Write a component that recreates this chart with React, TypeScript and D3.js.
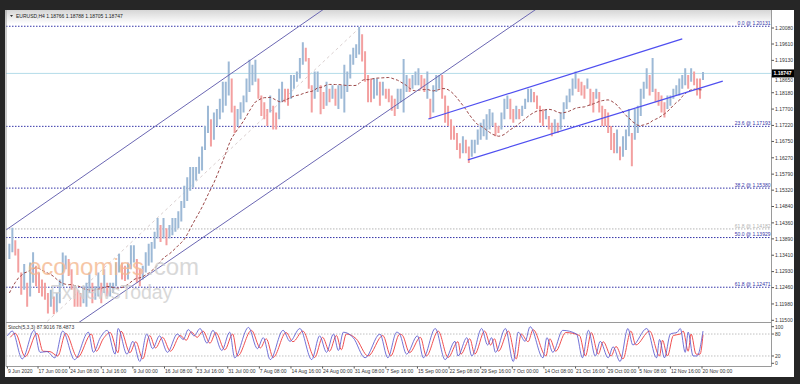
import React from 'react';
import * as d3 from 'd3';

const chartTitle = 'EURUSD,H4  1.18766 1.18788 1.18705 1.18747';
const stochTitle = 'Stoch(5,3,3) 87.9016 78.4873';
const lastPrice = 1.18747;

// Half-day bars (AM, PM) from 10 Jun 2020 to 20 Nov 2020
const barLow = [
  1.1330, 1.1350, 1.1340, 1.1290, 1.1225, 1.1240, 1.1190, 1.1220, 1.1260, 1.1250,
  1.1230, 1.1220, 1.1210, 1.1170, 1.1190, 1.1168, 1.1175, 1.1200, 1.1250, 1.1300,
  1.1280, 1.1240, 1.1190, 1.1190, 1.1190, 1.1200, 1.1190, 1.1230, 1.1200, 1.1210,
  1.1220, 1.1200, 1.1230, 1.1220, 1.1220, 1.1230, 1.1250, 1.1290, 1.1270, 1.1265,
  1.1270, 1.1300, 1.1320, 1.1260, 1.1250, 1.1270, 1.1290, 1.1310, 1.1320, 1.1360,
  1.1390, 1.1380, 1.1390, 1.1370, 1.1390, 1.1400, 1.1410, 1.1420, 1.1440, 1.1480,
  1.1500, 1.1530, 1.1540, 1.1560, 1.1580, 1.1590, 1.1650, 1.1700, 1.1660, 1.1680,
  1.1720, 1.1740, 1.1760, 1.1780, 1.1810, 1.1760, 1.1700, 1.1720, 1.1740, 1.1760,
  1.1790, 1.1820, 1.1840, 1.1850, 1.1800, 1.1750, 1.1740, 1.1720, 1.1760, 1.1710,
  1.1710, 1.1740, 1.1790, 1.1790, 1.1780, 1.1800, 1.1830, 1.1850, 1.1860, 1.1900,
  1.1910, 1.1830, 1.1760, 1.1800, 1.1820, 1.1755, 1.1770, 1.1780, 1.1790, 1.1800,
  1.1780, 1.1770, 1.1800, 1.1760, 1.1820, 1.1860, 1.1900, 1.1920, 1.1930, 1.1910,
  1.1850, 1.1790, 1.1790, 1.1800, 1.1810, 1.1780, 1.1810, 1.1800, 1.1790, 1.1765,
  1.1750, 1.1770, 1.1790, 1.1760, 1.1820, 1.1820, 1.1830, 1.1840, 1.1840, 1.1830,
  1.1820, 1.1800, 1.1740, 1.1760, 1.1820, 1.1830, 1.1800, 1.1730, 1.1720, 1.1680,
  1.1680, 1.1650, 1.1625, 1.1640, 1.1640, 1.1612, 1.1630, 1.1640, 1.1665, 1.1680,
  1.1690, 1.1680, 1.1710, 1.1720, 1.1690, 1.1700, 1.1710, 1.1740, 1.1770, 1.1740,
  1.1730, 1.1740, 1.1740, 1.1750, 1.1770, 1.1790, 1.1790, 1.1790, 1.1770, 1.1730,
  1.1720, 1.1740, 1.1710, 1.1690, 1.1700, 1.1700, 1.1710, 1.1740, 1.1770, 1.1790,
  1.1810, 1.1830, 1.1820, 1.1810, 1.1800, 1.1830, 1.1780, 1.1760, 1.1800, 1.1760,
  1.1720, 1.1720, 1.1700, 1.1650, 1.1640, 1.1640, 1.1620, 1.1630, 1.1650, 1.1690,
  1.1602, 1.1680, 1.1700, 1.1750, 1.1800, 1.1830, 1.1810, 1.1820, 1.1790, 1.1780,
  1.1760, 1.1745, 1.1770, 1.1780, 1.1800, 1.1810, 1.1810, 1.1830, 1.1840, 1.1830,
  1.1850, 1.1840, 1.1810, 1.1800, 1.1855,
];
const barHigh = [
  1.1375, 1.1422, 1.1385, 1.1360, 1.1290, 1.1315, 1.1260, 1.1320, 1.1350, 1.1310,
  1.1290, 1.1270, 1.1260, 1.1230, 1.1240, 1.1220, 1.1230, 1.1270, 1.1349, 1.1340,
  1.1330, 1.1300, 1.1250, 1.1240, 1.1230, 1.1250, 1.1260, 1.1290, 1.1260, 1.1250,
  1.1290, 1.1260, 1.1300, 1.1260, 1.1260, 1.1260, 1.1320, 1.1345, 1.1320, 1.1310,
  1.1320, 1.1370, 1.1370, 1.1330, 1.1300, 1.1310, 1.1350, 1.1375, 1.1380, 1.1410,
  1.1450, 1.1430, 1.1450, 1.1420, 1.1430, 1.1450, 1.1450, 1.1470, 1.1500, 1.1545,
  1.1570, 1.1600, 1.1600, 1.1600, 1.1630, 1.1660, 1.1720, 1.1780, 1.1740, 1.1760,
  1.1770, 1.1800, 1.1850, 1.1850, 1.1910, 1.1860, 1.1780, 1.1770, 1.1790, 1.1810,
  1.1860, 1.1915, 1.1900, 1.1915, 1.1860, 1.1810, 1.1790, 1.1770, 1.1810, 1.1780,
  1.1760, 1.1830, 1.1850, 1.1830, 1.1830, 1.1870, 1.1870, 1.1880, 1.1920, 1.1966,
  1.1950, 1.1920, 1.1840, 1.1880, 1.1880, 1.1840, 1.1820, 1.1850, 1.1830, 1.1840,
  1.1830, 1.1840, 1.1840, 1.1900, 1.1880, 1.1930, 1.1950, 1.1960, 1.2011, 1.1990,
  1.1940, 1.1870, 1.1860, 1.1860, 1.1860, 1.1850, 1.1850, 1.1830, 1.1830, 1.1810,
  1.1800, 1.1830, 1.1830, 1.1917, 1.1870, 1.1860, 1.1870, 1.1880, 1.1890, 1.1870,
  1.1860, 1.1880, 1.1800, 1.1840, 1.1870, 1.1870, 1.1870, 1.1810, 1.1780, 1.1740,
  1.1720, 1.1700, 1.1670, 1.1690, 1.1680, 1.1660, 1.1680, 1.1680, 1.1710, 1.1730,
  1.1740, 1.1755, 1.1770, 1.1760, 1.1730, 1.1720, 1.1760, 1.1800, 1.1810, 1.1800,
  1.1770, 1.1780, 1.1770, 1.1780, 1.1800, 1.1830, 1.1830, 1.1820, 1.1810, 1.1780,
  1.1770, 1.1770, 1.1750, 1.1730, 1.1740, 1.1730, 1.1760, 1.1790, 1.1810, 1.1830,
  1.1860, 1.1880, 1.1860, 1.1850, 1.1840, 1.1860, 1.1830, 1.1820, 1.1830, 1.1820,
  1.1780, 1.1770, 1.1760, 1.1720, 1.1700, 1.1710, 1.1660, 1.1690, 1.1710, 1.1770,
  1.1700, 1.1770, 1.1780, 1.1830, 1.1850, 1.1890, 1.1870, 1.1920, 1.1830, 1.1820,
  1.1810, 1.1790, 1.1810, 1.1810, 1.1830, 1.1840, 1.1860, 1.1870, 1.1890, 1.1870,
  1.1890, 1.1880, 1.1860, 1.1860, 1.1879,
];
// half-day mid prices before the window (for the moving average)
const priorMid = [
  1.1080, 1.1100, 1.1120, 1.1110, 1.1130, 1.1150, 1.1170, 1.1190, 1.1230,
  1.1230, 1.1290, 1.1340, 1.1300, 1.1280, 1.1280, 1.1300, 1.1340,
];
const maPeriod = 17;

const priceTicks = [
  1.2008, 1.1961, 1.1913, 1.1865, 1.1818, 1.177, 1.1722, 1.1675, 1.1627, 1.1579,
  1.1532, 1.1484, 1.1436, 1.1389, 1.1341, 1.1293, 1.1246, 1.1198, 1.115,
];

const dateLabels = [
  '9 Jun 2020', '17 Jun 00:00', '24 Jun 08:00', '1 Jul 16:00', '9 Jul 00:00', '16 Jul 08:00',
  '23 Jul 16:00', '31 Jul 00:00', '7 Aug 08:00', '14 Aug 16:00', '24 Aug 00:00', '31 Aug 08:00',
  '7 Sep 16:00', '15 Sep 00:00', '22 Sep 08:00', '29 Sep 16:00', '7 Oct 00:00', '14 Oct 08:00',
  '21 Oct 16:00', '29 Oct 00:00', '5 Nov 08:00', '12 Nov 16:00', '20 Nov 00:00',
];
const dateLabelBar = [0, 31, 63, 95, 127, 159, 191, 223, 255, 287, 319, 351, 383, 415, 447, 479, 511, 543, 575, 607, 639, 671, 703];

const fibNames = ['0.0', '23.6', '38.2', '50.0', '61.8'];
const fibPrices = [1.20131, 1.17193, 1.1538, 1.13929, 1.12471];
const altFibName = '61.8';
const altFibPrice = 1.14182;
const fibAnchorBar = [5, 358];
const fibAnchorPrice = [1.10505, 1.20131];

const channelUpperBar = [0, 319];
const channelUpperPrice = [1.1418, 1.2061];
const channelLowerBar = [73, 534];
const channelLowerPrice = [1.1145, 1.2061];
const risingUpperBar = [426, 683];
const risingUpperPrice = [1.1741, 1.1976];
const risingLowerBar = [466, 724];
const risingLowerPrice = [1.1621, 1.1852];

const stochKBar = [0, 5, 15, 27, 33, 40, 48, 56, 68, 82, 87, 94, 101, 109, 112, 121, 127, 134, 141, 147, 154, 162, 172, 178, 183, 189, 195, 202, 208, 217, 225, 230, 244, 253, 259, 266, 279, 286, 296, 308, 316, 323, 330, 335, 340, 350, 362, 377, 385, 394, 397, 404, 415, 421, 433, 443, 453, 456, 465, 470, 480, 486, 490, 494, 504, 512, 517, 524, 529, 542, 546, 552, 562, 576, 582, 588, 595, 600, 608, 613, 620, 628, 633, 647, 657, 660, 665, 671, 678, 681, 686, 689, 694, 698, 704];
const stochK = [75, 88, 12, 90, 30, 32, 15, 88, 10, 85, 30, 70, 90, 25, 95, 25, 60, 5, 80, 40, 75, 30, 80, 65, 92, 75, 95, 55, 90, 35, 85, 15, 98, 40, 70, 10, 90, 60, 95, 10, 75, 30, 80, 35, 85, 70, 15, 80, 15, 85, 80, 25, 75, 15, 95, 10, 60, 20, 70, 20, 95, 50, 70, 30, 95, 5, 85, 60, 100, 15, 70, 30, 90, 80, 15, 90, 20, 60, 15, 45, 5, 95, 50, 95, 15, 65, 15, 80, 85, 95, 30, 85, 20, 20, 88];
const stochDBar = [3, 8, 18, 30, 36, 43, 51, 59, 71, 85, 90, 97, 104, 112, 115, 124, 130, 137, 144, 150, 157, 165, 175, 181, 186, 192, 198, 205, 211, 220, 228, 233, 247, 256, 262, 269, 282, 289, 299, 311, 319, 326, 333, 338, 343, 353, 365, 380, 388, 397, 400, 407, 418, 424, 436, 446, 456, 459, 468, 473, 483, 489, 493, 497, 507, 515, 520, 527, 532, 545, 549, 555, 565, 579, 585, 591, 598, 603, 611, 616, 623, 631, 636, 650, 660, 663, 668, 674, 681, 684, 689, 692, 697, 701, 704];
const stochD = [71, 82, 18, 82, 33, 32, 20, 82, 16, 80, 33, 67, 84, 29, 88, 29, 59, 12, 76, 42, 71, 33, 76, 63, 86, 71, 88, 55, 84, 37, 80, 20, 90, 42, 67, 16, 84, 59, 88, 16, 71, 33, 76, 37, 80, 67, 20, 76, 20, 80, 76, 29, 71, 20, 88, 16, 59, 25, 67, 25, 88, 50, 67, 33, 88, 12, 80, 59, 92, 20, 67, 33, 84, 76, 20, 84, 25, 59, 20, 46, 12, 88, 50, 88, 20, 63, 20, 76, 80, 88, 33, 80, 25, 25, 78];
const stochLevels = [80, 20];
const stochTicks = [100, 80, 20, 0];

const W = 800, H = 384;
const L = 6, R = 771.5, T = 10, MB = 322.5, ST = 322.5, SB = 366.5;
const FONT = 'Liberation Sans, Arial, sans-serif';

export default function App() {
  const x = d3.scaleLinear().domain([0, 704]).range([7.4, 703]);
  const y = d3.scaleLinear().domain([1.115, 1.2008]).range([320.3, 28]);
  const ys = d3.scaleLinear().domain([0, 100]).range([363.3, 326.7]);

  const barPos = (j: number) => 2 + 6 * Math.floor(j / 2) + 3 * (j % 2);
  const mids = barLow.map((l, i) => (l + barHigh[i]) / 2);
  const allMid = priorMid.concat(mids);
  const ma = mids.map((_, i) => {
    const end = i + priorMid.length;
    return d3.mean(allMid.slice(end - maPeriod + 1, end + 1)) as number;
  });
  const maLine = d3.line<number>().x((_, i) => x(barPos(i))).y((d) => y(d))(ma) || '';

  const xMin = x.invert(L), xMax = x.invert(R);
  const extLine = (b: number[], p: number[]) => {
    const s = (p[1] - p[0]) / (b[1] - b[0]);
    return { x1: x(xMin), y1: y(p[0] + s * (xMin - b[0])), x2: x(xMax), y2: y(p[0] + s * (xMax - b[0])) };
  };
  const up = extLine(channelUpperBar, channelUpperPrice);
  const lo = extLine(channelLowerBar, channelLowerPrice);

  const kLine = d3.line<number>().x((_, i) => x(stochKBar[i])).y((d) => ys(d)).curve(d3.curveMonotoneX)(stochK) || '';
  const dLine = d3.line<number>().x((_, i) => x(stochDBar[i])).y((d) => ys(d)).curve(d3.curveMonotoneX)(stochD) || '';

  const fibColor = '#3434a8';
  const lastY = y(lastPrice);
  return (
    <svg width={W} height={H} style={{ position: 'absolute', left: 0, top: 0, fontFamily: FONT }}>
      <defs>
        <linearGradient id="hdr" x1="0" x2="0" y1="0" y2="1">
          <stop offset="0" stopColor="#d6d6d6" />
          <stop offset="1" stopColor="#ffffff" />
        </linearGradient>
        <clipPath id="mainClip"><rect x={L} y={T} width={R - L} height={MB - T} /></clipPath>
        <clipPath id="stClip"><rect x={L} y={ST} width={R - L} height={SB - ST} /></clipPath>
      </defs>
      <rect x={0} y={0} width={W} height={H} fill="#262626" />
      <rect x={5} y={T} width={789} height={367} fill="#ffffff" />
      <rect x={5} y={T} width={766} height={14} fill="url(#hdr)" />

      <g clipPath="url(#mainClip)">
        {fibPrices.map((p, i) => (
          <line key={'f' + i} x1={L} x2={R} y1={y(p)} y2={y(p)} stroke={fibColor} strokeWidth={1} strokeDasharray="1.5,1.5" />
        ))}
        <line x1={L} x2={R} y1={y(altFibPrice)} y2={y(altFibPrice)} stroke="#b4b4b4" strokeWidth={1} strokeDasharray="1.5,1.5" />
        <line x1={x(fibAnchorBar[0])} y1={y(fibAnchorPrice[0])} x2={x(fibAnchorBar[1])} y2={y(fibAnchorPrice[1])} stroke="#d9cfcf" strokeWidth={1} strokeDasharray="3,3" />
        <line x1={L} x2={R} y1={lastY} y2={lastY} stroke="#b5dcea" strokeWidth={1} />
        {barLow.map((l, j) => {
          const prev = j === 0 ? priorMid[priorMid.length - 1] : mids[j - 1];
          const isUp = mids[j] >= prev;
          const xx = x(barPos(j));
          return (
            <line key={'b' + j} x1={xx} x2={xx} y1={y(l)} y2={y(barHigh[j])} stroke={isUp ? '#9db9d6' : '#f3a0a0'} strokeWidth={2} />
          );
        })}
        <path d={maLine} fill="none" stroke="#9a4646" strokeWidth={1} strokeDasharray="3,2" />
        <line {...up} stroke="#6b67b3" strokeWidth={1} />
        <line {...lo} stroke="#6b67b3" strokeWidth={1} />
        <line x1={x(risingUpperBar[0])} y1={y(risingUpperPrice[0])} x2={x(risingUpperBar[1])} y2={y(risingUpperPrice[1])} stroke="#4f4ff0" strokeWidth={1.2} />
        <line x1={x(risingLowerBar[0])} y1={y(risingLowerPrice[0])} x2={x(risingLowerBar[1])} y2={y(risingLowerPrice[1])} stroke="#4f4ff0" strokeWidth={1.2} />
        <g opacity={0.8}>
          <text x={28} y={275} fontSize={24} fill="#f5b991">economies</text>
          <text x={147} y={275} fontSize={24} fill="#cfcfcf">.com</text>
          <text x={50} y={299} fontSize={19.5} fill="#cfcfcf">FxNewsToday</text>
        </g>
      </g>

      {fibPrices.map((p, i) => (
        <text key={'fl' + i} x={R - 1} y={y(p) - 1.2} fontSize={5} fill={fibColor} textAnchor="end">{`${fibNames[i]} @ ${p.toFixed(5)}`}</text>
      ))}
      <text x={R - 1} y={y(altFibPrice) - 1.2} fontSize={5} fill="#b0b0b0" textAnchor="end">{`${altFibName} @ ${altFibPrice.toFixed(5)}`}</text>

      <path d="M 10 15 L 13 15 L 11.5 17 Z" fill="#333" />
      <text x={16} y={17.5} fontSize={5} fill="#222">{chartTitle}</text>

      <line x1={L} x2={L} y1={T} y2={SB} stroke="#9a9a9a" />
      <line x1={R} x2={R} y1={T} y2={SB} stroke="#9a9a9a" />
      <line x1={L} x2={R} y1={MB} y2={MB} stroke="#9a9a9a" />
      <line x1={L} x2={R} y1={SB} y2={SB} stroke="#9a9a9a" />

      {priceTicks.map((p, i) => {
        const py = y(p);
        const near = Math.abs(py - lastY) < 6;
        return (
          <g key={'pt' + i}>
            <line x1={R} x2={R + 2.5} y1={py} y2={py} stroke="#555" />
            <text x={R + 3.5} y={near ? lastY + 8.4 : py + 1.8} fontSize={5} fill="#333">{p.toFixed(5)}</text>
          </g>
        );
      })}
      <rect x={R + 0.5} y={lastY - 4} width={22} height={8} fill="#000" />
      <text x={R + 2} y={lastY + 1.8} fontSize={5} fill="#fff" fontWeight="bold">{lastPrice.toFixed(5)}</text>

      <g clipPath="url(#stClip)">
        {stochLevels.map((v) => (
          <line key={'sl' + v} x1={L} x2={R} y1={ys(v)} y2={ys(v)} stroke="#c0c0c0" strokeDasharray="1.5,1.5" />
        ))}
        <path d={dLine} fill="none" stroke="#f05050" strokeWidth={1} />
        <path d={kLine} fill="none" stroke="#5a5ad0" strokeWidth={1} opacity={0.85} />
      </g>
      <text x={8} y={328.5} fontSize={5} fill="#333">{stochTitle}</text>
      {stochTicks.map((v) => (
        <g key={'st' + v}>
          <line x1={R} x2={R + 2.5} y1={ys(v)} y2={ys(v)} stroke="#555" />
          <text x={R + 3.5} y={ys(v) + 1.8} fontSize={5} fill="#333">{v}</text>
        </g>
      ))}

      {dateLabels.map((d, i) => (
        <g key={'d' + i}>
          <line x1={x(dateLabelBar[i])} x2={x(dateLabelBar[i])} y1={SB} y2={SB + 2} stroke="#555" />
          <text x={x(dateLabelBar[i]) + 0.5} y={373} fontSize={5} fill="#333">{d}</text>
        </g>
      ))}
    </svg>
  );
}
